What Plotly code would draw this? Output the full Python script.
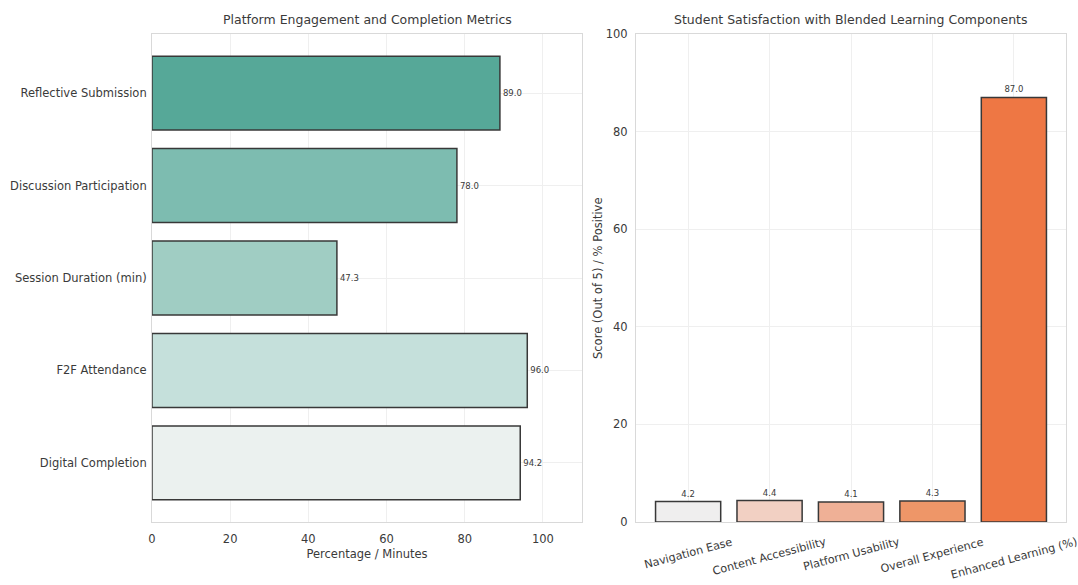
import plotly.graph_objects as go

# Engagement metrics (horizontal bars, bottom to top)
engagement_labels = ["Digital Completion", "F2F Attendance", "Session Duration (min)",
                     "Discussion Participation", "Reflective Submission"]
engagement_values = [94.2, 96.0, 47.3, 78.0, 89.0]
engagement_colors = ["#ebf1ef", "#c5e0db", "#a0cdc3", "#7dbcb0", "#56a898"]

# Satisfaction scores
satisfaction_labels = ["Navigation Ease", "Content Accessibility", "Platform Usability",
                       "Overall Experience", "Enhanced Learning (%)"]
satisfaction_values = [4.2, 4.4, 4.1, 4.3, 87.0]
satisfaction_colors = ["#efeeee", "#f2d0c3", "#efb096", "#ee9668", "#ee7744"]

FONT = "DejaVu Sans"
TXT = "#3a3a3a"
GRID = "#efefef"
FRAME = "#d9d9d9"

fig = go.Figure()

fig.add_trace(go.Bar(
    x=engagement_values, y=engagement_labels, orientation="h",
    marker=dict(color=engagement_colors, line=dict(color="#383838", width=1.5)),
    text=[f"{v:.1f}" for v in engagement_values], textposition="outside",
    textfont=dict(size=8.5, color=TXT, family=FONT), cliponaxis=False,
    xaxis="x", yaxis="y", showlegend=False,
))

fig.add_trace(go.Bar(
    x=satisfaction_labels, y=satisfaction_values,
    marker=dict(color=satisfaction_colors, line=dict(color="#383838", width=1.5)),
    text=[f"{v:.1f}" for v in satisfaction_values], textposition="outside",
    textfont=dict(size=8.5, color=TXT, family=FONT), cliponaxis=False,
    xaxis="x2", yaxis="y2", showlegend=False,
))

W, H = 1078, 585
left = (152, 582)
right = (636, 1066)
top, bottom = 34, 522
ydom = [(H - bottom) / H, (H - top) / H]

axis_common = dict(showline=True, mirror=True, linecolor=FRAME, linewidth=1,
                   showgrid=True, gridcolor=GRID, gridwidth=1, zeroline=False,
                   automargin=False, ticks="",
                   tickfont=dict(size=11.5, color=TXT, family=FONT))

fig.update_layout(
    width=W, height=H,
    margin=dict(l=0, r=0, t=0, b=0, autoexpand=False),
    paper_bgcolor="white", plot_bgcolor="white",
    font=dict(family=FONT, color=TXT),
    bargap=0.2,
    xaxis=dict(domain=[left[0] / W, left[1] / W], range=[0, 110],
               tickvals=[0, 20, 40, 60, 80, 100], anchor="y", ticklabelstandoff=6,
               title=dict(text="Percentage / Minutes", font=dict(size=11.5, color=TXT), standoff=5),
               **axis_common),
    yaxis=dict(domain=ydom, range=[-0.64, 4.64], anchor="x",
               categoryorder="array", categoryarray=engagement_labels,
               ticklabelstandoff=2, **axis_common),
    xaxis2=dict(domain=[right[0] / W, right[1] / W], range=[-0.64, 4.64], anchor="y2",
                categoryorder="array", categoryarray=satisfaction_labels,
                showticklabels=False, **axis_common),
    yaxis2=dict(domain=ydom, range=[0, 100], anchor="x2",
                tickvals=[0, 20, 40, 60, 80, 100], ticklabelstandoff=5,
                **axis_common),
)

annotations = [
    dict(text="Platform Engagement and Completion Metrics", x=(left[0] + left[1]) / 2 / W,
         y=(H - 20) / H, xref="paper", yref="paper", showarrow=False,
         font=dict(size=12.5, color=TXT, family=FONT), xanchor="center", yanchor="middle"),
    dict(text="Student Satisfaction with Blended Learning Components",
         x=(right[0] + right[1]) / 2 / W, y=(H - 20) / H, xref="paper", yref="paper",
         showarrow=False, font=dict(size=12.5, color=TXT, family=FONT),
         xanchor="center", yanchor="middle"),
    dict(text="Score (Out of 5) / % Positive", x=598 / W, y=(H - (top + bottom) / 2) / H,
         xref="paper", yref="paper", showarrow=False, textangle=-90,
         font=dict(size=11.5, color=TXT, family=FONT), xanchor="center", yanchor="middle"),
]
# Rotated category labels under the satisfaction chart
for lab in satisfaction_labels:
    annotations.append(dict(text=lab, x=lab, y=(H - 533) / H, xref="x2", yref="paper",
                            showarrow=False, textangle=-15, xanchor="center", yanchor="top",
                            font=dict(size=11.2, color=TXT, family=FONT)))
fig.update_layout(annotations=annotations)

fig.write_html("out.html")
